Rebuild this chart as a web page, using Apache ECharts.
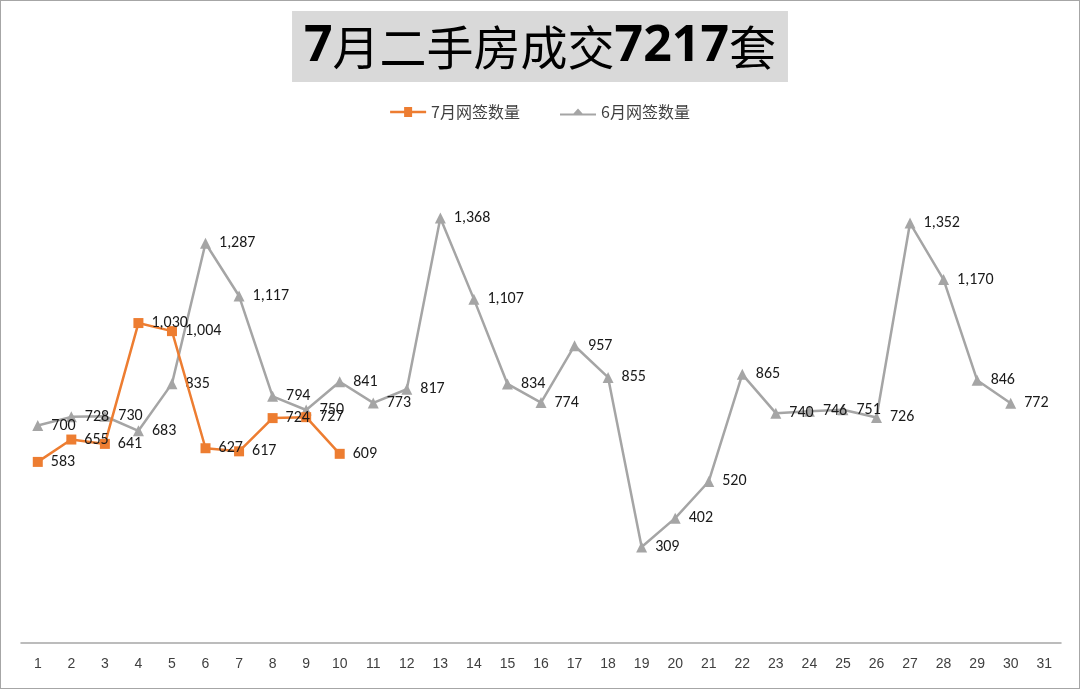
<!DOCTYPE html>
<html>
<head>
<meta charset="utf-8">
<script src="https://cdn.jsdelivr.net/npm/echarts@6/dist/echarts.min.js"></script>
<style>
  html, body { margin: 0; padding: 0; background: #fff; }
  #main { width: 1078px; height: 687px; border: 1px solid #a6a6a6; }
</style>
</head>
<body>
<div id="main"></div>
<script>
// days of the month
const days = [];
for (let d = 1; d <= 31; d++) days.push(String(d));

const julySigned = [583, 655, 641, 1030, 1004, 627, 617, 724, 727, 609];
const juneSigned = [700, 728, 730, 683, 835, 1287, 1117, 794, 750, 841, 773, 817, 1368, 1107,
    834, 774, 957, 855, 309, 402, 520, 865, 740, 746, 751, 726, 1352, 1170, 846, 772];

const fmt = (v) => Number(v).toLocaleString('en-US');

let chart = echarts.init(document.getElementById('main'));

const label = {
    show: true,
    position: 'right',
    distance: 8,
    color: '#1a1a1a',
    fontSize: 16,
    fontFamily: 'Calibri, Carlito, "Open Sans", sans-serif',
    formatter: (p) => fmt(p.value)
};

let option = {
    backgroundColor: '#fff',
    animation: false,
    title: {
        text: '{n|7}{c|月二手房成交}{n|7217}{c|套}',
        left: 'center',
        top: 10,
        backgroundColor: '#d9d9d9',
        padding: [8, 12, 7, 12],
        textStyle: {
            lineHeight: 56,
            rich: {
                n: { fontSize: 50, fontWeight: 'bold', color: '#000', fontFamily: '"Open Sans", "Liberation Sans", sans-serif', lineHeight: 56 },
                c: { fontSize: 47, fontWeight: 'normal', color: '#000', fontFamily: '"Noto Sans CJK SC", sans-serif', lineHeight: 56 }
            }
        }
    },
    legend: {
        top: 98,
        left: 'center',
        itemGap: 40,
        itemWidth: 36,
        itemHeight: 10,
        textStyle: { color: '#404040', fontSize: 16, fontFamily: '"Noto Sans CJK SC", sans-serif' },
        data: [
            { name: '7月网签数量', icon: 'path://M0,3.8 L14,3.8 L14,0 L22,0 L22,3.8 L36,3.8 L36,6.2 L22,6.2 L22,10 L14,10 L14,6.2 L0,6.2 Z' },
            { name: '6月网签数量', icon: 'path://M0,5 L13.5,5 L18,0 L22.5,5 L36,5 L36,7 L22.5,7 L13.5,7 L0,7 Z' }
        ]
    },
    grid: { left: 20, right: 18, top: 145, bottom: 45 },
    xAxis: {
        type: 'category',
        data: days,
        boundaryGap: true,
        axisLine: { lineStyle: { color: '#a6a6a6', width: 1.5 } },
        axisTick: { show: false },
        axisLabel: { color: '#404040', fontSize: 14, margin: 14, fontFamily: '"Liberation Sans Narrow", "Liberation Sans", sans-serif' }
    },
    yAxis: {
        type: 'value',
        min: 0,
        max: 1600,
        show: false,
        splitLine: { show: false }
    },
    series: [
        {
            name: '7月网签数量',
            type: 'line',
            data: julySigned,
            color: '#ed7d31',
            symbol: 'rect',
            symbolSize: 10,
            lineStyle: { width: 2.5, color: '#ed7d31' },
            itemStyle: { color: '#ed7d31' },
            label: label,
            z: 3
        },
        {
            name: '6月网签数量',
            type: 'line',
            data: juneSigned,
            color: '#a5a5a5',
            symbol: 'triangle',
            symbolSize: 11,
            lineStyle: { width: 2.5, color: '#a5a5a5' },
            itemStyle: { color: '#a5a5a5' },
            label: label,
            z: 2
        }
    ]
};
chart.setOption(option);
</script>
</body>
</html>
